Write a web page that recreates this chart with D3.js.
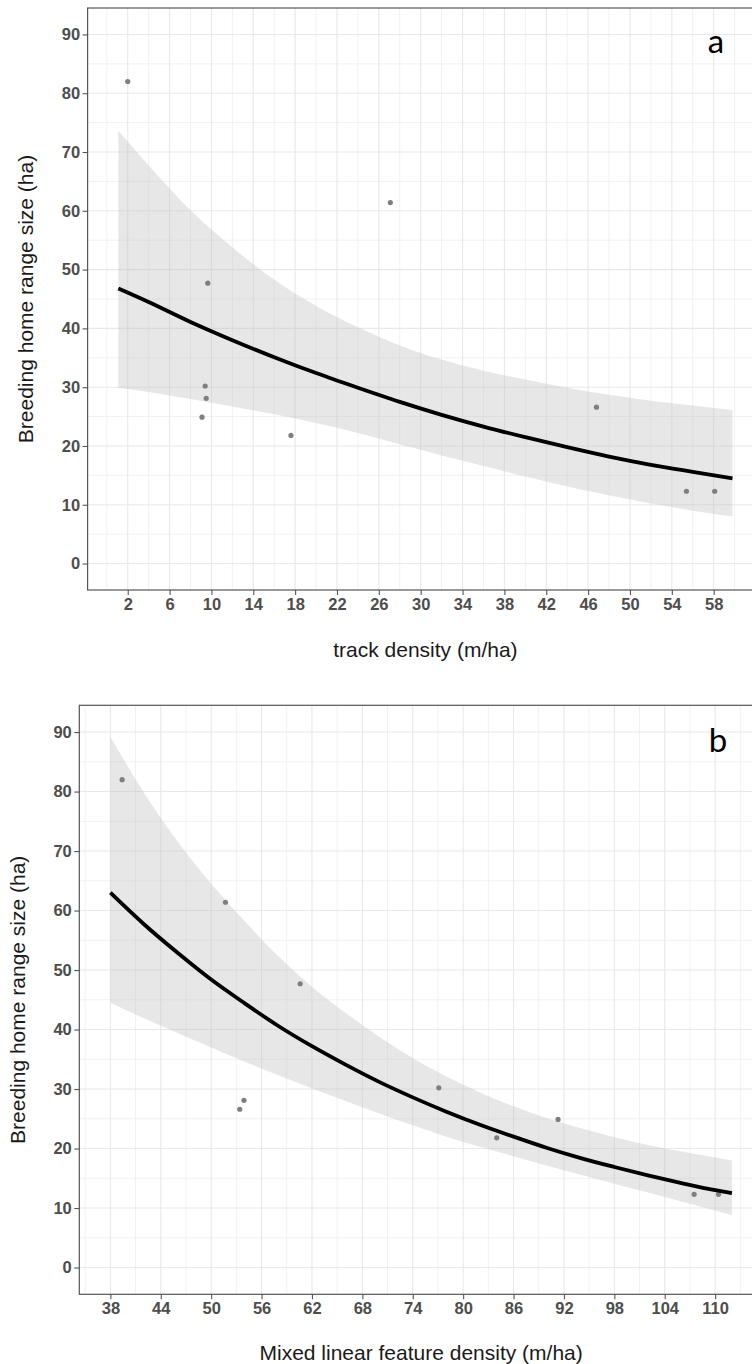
<!DOCTYPE html>
<html>
<head>
<meta charset="utf-8">
<script src="https://cdn.jsdelivr.net/npm/d3@7"></script>
<style>
  body { margin: 0; background: #fff; }
  svg { display: block; overflow: hidden; }
</style>
</head>
<body>
<svg id="chart" width="752" height="1364"></svg>
<script>
// ---------- Panel a: track density ----------
const trackX = [2.0, 9.65, 27.1, 9.4, 9.5, 9.1, 17.6, 46.8, 55.4, 58.1];
const trackY = [82.0, 47.7, 61.4, 30.2, 28.1, 24.9, 21.8, 26.6, 12.3, 12.3];
const trackFitX  = [1.1, 4, 8, 12, 16, 20, 24, 28, 32, 36, 40, 44, 48, 52, 56, 59.8];
const trackFit   = [46.8, 44.5, 41.1, 38.0, 35.1, 32.4, 29.9, 27.5, 25.3, 23.3, 21.5, 19.8, 18.2, 16.8, 15.6, 14.5];
const trackLower = [29.9, 29.2, 28.0, 26.7, 25.4, 23.9, 22.2, 20.3, 18.4, 16.6, 14.8, 13.1, 11.6, 10.2, 9.0, 8.0];
const trackUpper = [73.6, 67.7, 60.1, 53.8, 48.3, 43.8, 40.2, 37.1, 34.7, 32.8, 31.3, 29.9, 28.7, 27.7, 26.9, 26.1];
const trackTicks = [2, 6, 10, 14, 18, 22, 26, 30, 34, 38, 42, 46, 50, 54, 58];

// ---------- Panel b: mixed linear feature density ----------
const mixedX = [39.4, 51.7, 60.6, 53.4, 53.9, 77.1, 84.0, 91.3, 107.5, 110.4];
const mixedY = [82.0, 61.4, 47.7, 26.6, 28.1, 30.2, 21.8, 24.9, 12.3, 12.3];
const mixedFitX  = [38, 42, 46, 50, 54, 58, 62, 66, 70, 74, 78, 82, 86, 90, 94, 98, 102, 106, 110, 112];
const mixedFit   = [63.0, 57.7, 52.9, 48.4, 44.4, 40.6, 37.2, 34.1, 31.2, 28.6, 26.2, 24.0, 22.0, 20.1, 18.4, 16.9, 15.5, 14.2, 13.0, 12.5];
const mixedLower = [44.5, 41.9, 39.4, 37.0, 34.6, 32.3, 30.1, 28.0, 25.9, 23.9, 22.0, 20.3, 18.7, 17.1, 15.6, 14.1, 12.6, 11.1, 9.6, 8.8];
const mixedUpper = [89.2, 79.8, 71.6, 64.5, 58.2, 52.3, 47.2, 42.8, 38.8, 35.2, 32.1, 29.4, 27.1, 25.1, 23.4, 21.9, 20.6, 19.5, 18.5, 18.0];
const mixedTicks = [38, 44, 50, 56, 62, 68, 74, 80, 86, 92, 98, 104, 110];

// ---------- shared y axis ----------
const yTicks = [0, 10, 20, 30, 40, 50, 60, 70, 80, 90];
const yMinor = [5, 15, 25, 35, 45, 55, 65, 75, 85];
const yLimits = [0, 90];
const yTitle = "Breeding home range size (ha)";

const svg = d3.select("#chart");
const FONT = "'Liberation Sans', Arial, sans-serif";

function drawPanel(cfg) {
  const g = svg.append("g");
  const [x0, x1] = d3.extent(cfg.fitX);
  const px = 0.05 * (x1 - x0);
  const x = d3.scaleLinear().domain([x0 - px, x1 + px]).range([cfg.left, cfg.right]);
  const py = 0.05 * (yLimits[1] - yLimits[0]);
  const y = d3.scaleLinear().domain([yLimits[0] - py, yLimits[1] + py]).range([cfg.bottom, cfg.top]);

  g.append("rect").attr("x", cfg.left).attr("y", cfg.top)
    .attr("width", cfg.right - cfg.left).attr("height", cfg.bottom - cfg.top)
    .attr("fill", "#fff");

  // minor grid
  const step = cfg.ticks[1] - cfg.ticks[0];
  const xMinor = [];
  for (let i = -1; i < cfg.ticks.length + 1; i++) {
    const v = cfg.ticks[0] + (i + 0.5) * step;
    if (v > x.domain()[0] && v < x.domain()[1]) xMinor.push(v);
  }
  g.selectAll(".vmin").data(xMinor).enter().append("line")
    .attr("x1", d => x(d)).attr("x2", d => x(d))
    .attr("y1", cfg.top).attr("y2", cfg.bottom)
    .attr("stroke", "#f1f1f1").attr("stroke-width", 1);
  g.selectAll(".hmin").data(yMinor).enter().append("line")
    .attr("x1", cfg.left).attr("x2", cfg.right)
    .attr("y1", d => y(d)).attr("y2", d => y(d))
    .attr("stroke", "#f1f1f1").attr("stroke-width", 1);
  // major grid
  g.selectAll(".vmaj").data(cfg.ticks).enter().append("line")
    .attr("x1", d => x(d)).attr("x2", d => x(d))
    .attr("y1", cfg.top).attr("y2", cfg.bottom)
    .attr("stroke", "#e8e8e8").attr("stroke-width", 1.1);
  g.selectAll(".hmaj").data(yTicks).enter().append("line")
    .attr("x1", cfg.left).attr("x2", cfg.right)
    .attr("y1", d => y(d)).attr("y2", d => y(d))
    .attr("stroke", "#e8e8e8").attr("stroke-width", 1.1);

  // ribbon
  const band = cfg.fitX.map((v, i) => ({ x: v, lo: cfg.lower[i], hi: cfg.upper[i], fit: cfg.fit[i] }));
  g.append("path").datum(band)
    .attr("d", d3.area().x(d => x(d.x)).y0(d => y(d.lo)).y1(d => y(d.hi)).curve(d3.curveMonotoneX))
    .attr("fill", "#c4c4c4").attr("fill-opacity", 0.4);

  // points
  g.selectAll(".pt").data(cfg.px.map((v, i) => [v, cfg.py[i]])).enter().append("circle")
    .attr("cx", d => x(d[0])).attr("cy", d => y(d[1])).attr("r", 2.6)
    .attr("fill", "#7f7f7f");

  // fit line
  g.append("path").datum(band)
    .attr("d", d3.line().x(d => x(d.x)).y(d => y(d.fit)).curve(d3.curveMonotoneX))
    .attr("fill", "none").attr("stroke", "#000").attr("stroke-width", 3.8);

  // border
  g.append("rect").attr("x", cfg.left).attr("y", cfg.top)
    .attr("width", cfg.right - cfg.left).attr("height", cfg.bottom - cfg.top)
    .attr("fill", "none").attr("stroke", "#555").attr("stroke-width", 1.2);

  // axes
  const ax = g.append("g").attr("transform", `translate(0,${cfg.bottom})`)
    .call(d3.axisBottom(x).tickValues(cfg.ticks).tickSize(5).tickPadding(3).tickFormat(d3.format("d")));
  const ay = g.append("g").attr("transform", `translate(${cfg.left},0)`)
    .call(d3.axisLeft(y).tickValues(yTicks).tickSize(5).tickPadding(2.5).tickFormat(d3.format("d")));
  [ax, ay].forEach(a => {
    a.select(".domain").remove();
    a.selectAll(".tick line").attr("stroke", "#555").attr("stroke-width", 1.1);
    a.selectAll(".tick text").attr("fill", "#4d4d4d")
      .style("font-family", FONT).style("font-size", cfg.tickSize + "px").style("font-weight", "bold");
  });

  // titles
  g.append("text").attr("x", (cfg.left + cfg.right) / 2).attr("y", cfg.xTitleY)
    .attr("text-anchor", "middle").attr("dy", "0.35em")
    .style("font-family", FONT).style("font-size", cfg.titleSize + "px").attr("fill", "#1a1a1a")
    .text(cfg.xTitle);
  g.append("text")
    .attr("transform", `translate(${cfg.yTitleX},${(cfg.top + cfg.bottom) / 2}) rotate(-90)`)
    .attr("text-anchor", "middle").attr("dy", "0.35em")
    .style("font-family", FONT).style("font-size", cfg.titleSize + "px").attr("fill", "#1a1a1a")
    .text(yTitle);

  // panel letter
  g.append("text").attr("x", cfg.labelX).attr("y", cfg.labelY)
    .attr("text-anchor", "middle")
    .style("font-family", "Lato, 'Open Sans', sans-serif").style("font-size", "33px").attr("fill", "#000")
    .text(cfg.label);
}

drawPanel({
  left: 87.6, right: 763.2, top: 8, bottom: 590,
  fitX: trackFitX, fit: trackFit, lower: trackLower, upper: trackUpper,
  px: trackX, py: trackY, ticks: trackTicks,
  xTitle: "track density (m/ha)", xTitleY: 650, yTitleX: 26,
  tickSize: 16.5, titleSize: 21,
  label: "a", labelX: 716, labelY: 53
});

drawPanel({
  left: 79.3, right: 763.0, top: 705.3, bottom: 1294.3,
  fitX: mixedFitX, fit: mixedFit, lower: mixedLower, upper: mixedUpper,
  px: mixedX, py: mixedY, ticks: mixedTicks,
  xTitle: "Mixed linear feature density (m/ha)", xTitleY: 1353, yTitleX: 17.5,
  tickSize: 16.5, titleSize: 21,
  label: "b", labelX: 718, labelY: 751.5
});
</script>
</body>
</html>
